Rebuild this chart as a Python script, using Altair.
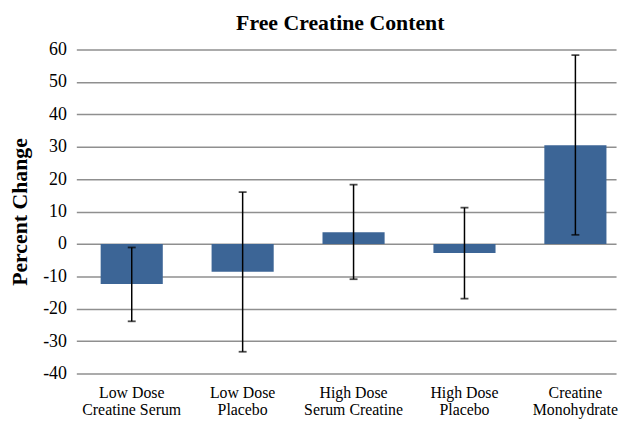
import altair as alt
import pandas as pd

categories = ["Low Dose|Creatine Serum", "Low Dose|Placebo", "High Dose|Serum Creatine",
              "High Dose|Placebo", "Creatine|Monohydrate"]
values = [-12.4, -8.6, 3.6, -2.8, 30.5]
err_low = [-23.9, -33.3, -10.9, -16.9, 2.8]
err_high = [-1.1, 16.0, 18.3, 11.2, 58.3]
y_ticks = [-40, -30, -20, -10, 0, 10, 20, 30, 40, 50, 60]

df = pd.DataFrame({"cat": categories, "val": values, "lo": err_low, "hi": err_high})

FONT = "Liberation Serif"

x_axis = alt.Axis(labelExpr="split(datum.label, '|')", labelAngle=0, labelFont=FONT,
                  labelFontSize=16, labelColor="black", labelLineHeight=17,
                  labelPadding=11, ticks=False, domain=False, grid=False)
x_scale = alt.Scale(paddingInner=0.44, paddingOuter=0.153, align=0.717)
y_scale = alt.Scale(domain=[-40, 60], nice=False)
y_axis = alt.Axis(values=y_ticks, labelExpr="toString(datum.value)", labelFont=FONT,
                  labelFontSize=18, labelColor="black", labelPadding=10, ticks=False,
                  domain=False, gridColor="#8f8f8f", gridWidth=1.5, gridOpacity=1,
                  titleFont=FONT, titleFontSize=22, titleFontWeight="bold",
                  titleColor="black", titlePadding=11, labelOverlap=False)

def X():
    return alt.X("cat:N", sort=categories, title=None, scale=x_scale, axis=x_axis)

def Y(field):
    return alt.Y(field, scale=y_scale, title="Percent Change", axis=y_axis)

base = alt.Chart(df)
bars = base.mark_bar(color="#3C6596").encode(x=X(), y=Y("val:Q"))
rules = base.mark_rule(color="black", strokeWidth=1.5).encode(x=X(), y=Y("lo:Q"), y2="hi:Q")
cap_lo = base.mark_tick(color="black", thickness=1.8, size=8).encode(x=X(), y=Y("lo:Q"))
cap_hi = base.mark_tick(color="black", thickness=1.8, size=8).encode(x=X(), y=Y("hi:Q"))

chart = alt.layer(bars, rules, cap_lo, cap_hi).properties(
    width=545, height=327,
    autosize=alt.AutoSizeParams(type="none"),
    padding={"left": 69, "top": 40, "right": 6, "bottom": 46},
    title=alt.TitleParams("Free Creatine Content", font=FONT, fontSize=22, fontWeight="bold",
                          color="black", offset=6, dx=-6),
).configure(font=FONT).configure_view(stroke=None).configure_axis(
    labelFont=FONT, titleFont=FONT
)

chart.save("out.html", embed_options={"renderer": "svg", "actions": False})
